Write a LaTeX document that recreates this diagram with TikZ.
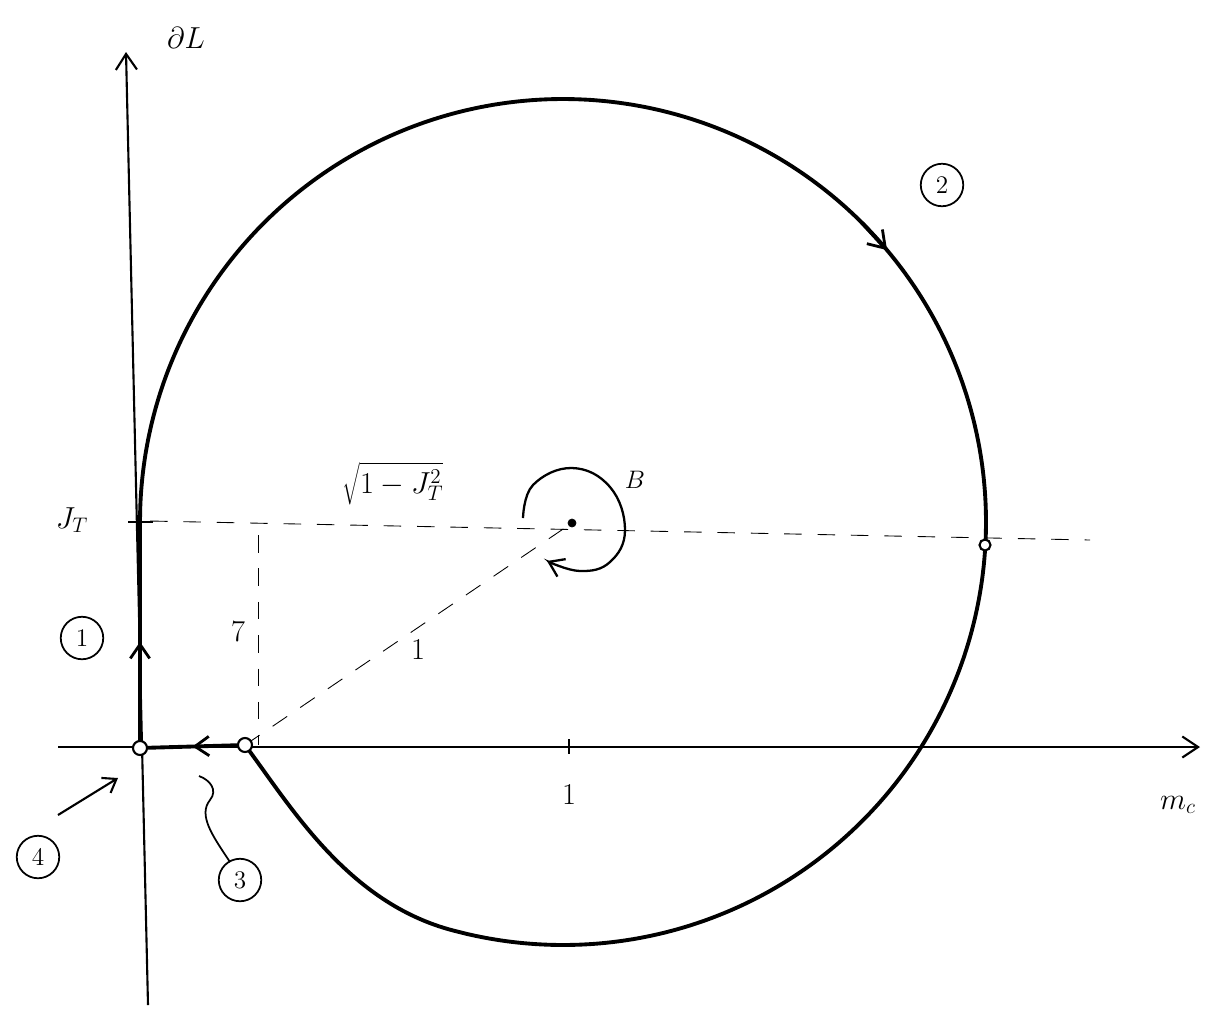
\documentclass[tikz,border=0pt]{standalone}
\usetikzlibrary{arrows.meta,decorations.markings}
\begin{document}
\begin{tikzpicture}[x=0.02cm,y=-0.02cm,
  axisline/.style={line width=1.2pt,-{Straight Barb[length=9pt,width=12pt,line width=1.2pt]}},
  heavy/.style={line width=2.2pt,line cap=round,line join=round},
  dashline/.style={line width=0.5pt,dash pattern=on 10pt off 9pt},
  lbl/.style={font=\LARGE,inner sep=1pt},
  circled/.style={draw,circle,line width=1pt,inner sep=0pt,minimum size=0.85cm,font=\Large},
  dot/.style={draw,circle,line width=1.2pt,inner sep=0pt,minimum size=0.28cm,fill=white},
  thinarrow/.style={line width=1.2pt,-{Straight Barb[length=7pt,width=10pt,line width=1.2pt]}},
  midarrow/.style={postaction={decorate},decoration={markings,
     mark=at position #1 with {\arrow{Straight Barb[length=8pt,width=11pt,line width=1.6pt]}}}}]
\useasboundingbox (0,0) rectangle (1213,1015);

% axes
\coordinate (ybot) at (148,1005);
\coordinate (ytop) at (126,52);
\coordinate (xleft) at (58,747);
\coordinate (xright) at (1200,747);
\draw[axisline] (ybot) -- (ytop);
\draw[axisline] (xleft) -- (xright);

% key points
\coordinate (JT) at (140,522);
\coordinate (P) at (245,745);
\coordinate (V) at (258,535);
\coordinate (Vb) at (258,745);
\coordinate (hl) at (150,521);
\coordinate (hr) at (1090,540);
\node[draw,circle,fill=black,inner sep=0pt,minimum size=0.16cm] (C) at (572,523) {};

% dashed construction lines
\draw[dashline] (hl) -- (hr);
\draw[dashline] (V) -- (Vb);
\draw[dashline] (P) -- (C);

% ticks
\coordinate (t1a) at (128,522);
\coordinate (t1b) at (153,522);
\draw[line width=1.4pt] (t1a) -- (t1b);
\coordinate (t2a) at (569,739);
\coordinate (t2b) at (569,754);
\draw[line width=1.2pt] (t2a) -- (t2b);

% the circle path (centre 563,522, radius 423), then a bend into P
\draw[heavy] plot[domain=180:-105,samples=150,smooth] ({563+423*cos(\x)},{522-423*sin(\x)})
  .. controls (347,903) and (290,805) .. (P);
\coordinate (a2) at ({563+423*cos(45)},{522-423*sin(45)});
\coordinate (b2) at ({563+423*cos(40)},{522-423*sin(40)});
\draw[heavy,-{Straight Barb[length=9pt,width=12pt,line width=1.6pt]}] (a2) -- (b2);

% small circles
\node[dot] (O) at (140,748) {};
\node[dot] (Pc) at (245,745) {};
\node[dot,minimum size=0.22cm] (R) at (985,545) {};

% heavy legs along the axes
\draw[heavy,midarrow=0.45] (O) -- (JT);
\draw[heavy,midarrow=0.5] (Pc) -- (O);

% rotation around centre
\draw[line width=1.3pt,-{Straight Barb[length=8pt,width=11pt,line width=1.3pt]}]
  plot[smooth,tension=0.7] coordinates {(523,518) (533,485) (572,468) (610,487) (625,530) (610,562) (580,571) (547,561)};
\node[lbl,font=\Large] (B) at (635,480) {$B$};

% labels
\node[lbl] (yl) at (186,38) {$\partial L$};
\node[lbl] (xl) at (1178,805) {$m_c$};
\node[lbl] (jt) at (72,520) {$J_T$};
\node[lbl] (sq) at (393,484) {$\sqrt{1-J_T^2}$};
\node[lbl] (seven) at (238,632) {$7$};
\node[lbl] (one1) at (418,650) {$1$};
\node[lbl] (one2) at (569,795) {$1$};

% circled markers
\node[circled] (c1) at (82,638) {1};
\node[circled] (c2) at (942,185) {2};
\node[circled] (c3) at (240,880) {3};
\node[circled] (c4) at (38,857) {4};

\coordinate (a4) at (58,815);
\coordinate (b4) at (118,778);
\draw[thinarrow] (a4) -- (b4);
\coordinate (w3a) at (230,862);
\coordinate (w3b) at (199,776);
\draw[line width=1pt] (w3a) .. controls (212,835) and (198,815) .. (210,800) .. controls (218,790) and (210,780) .. (w3b);
\end{tikzpicture}
\end{document}
